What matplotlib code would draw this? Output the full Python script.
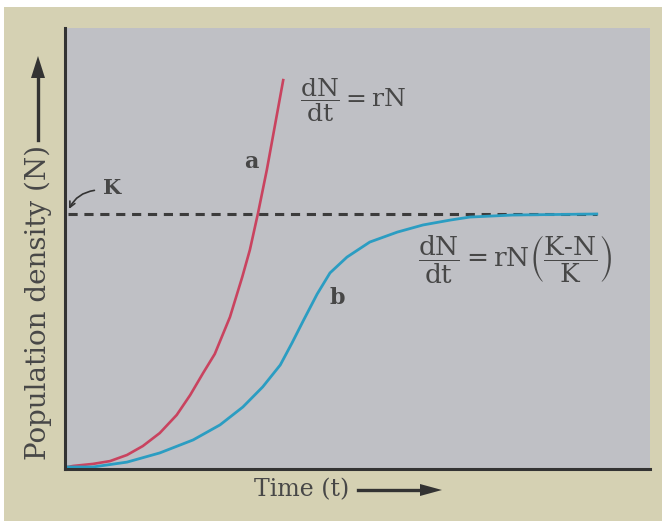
import matplotlib
matplotlib.use("Agg")
from matplotlib import pyplot as plt
from matplotlib.patches import Rectangle

# curve a: exponential growth (t, N), N in units of K
t_a = [0.05, 0.14, 0.48, 0.77, 1.06, 1.33, 1.62, 1.91, 2.14, 2.36, 2.56, 2.82,
       3.03, 3.16, 3.30, 3.45, 3.59, 3.73]
n_a = [0.008, 0.012, 0.020, 0.031, 0.055, 0.090, 0.141, 0.212, 0.290, 0.376, 0.451, 0.596,
       0.753, 0.859, 1.004, 1.173, 1.349, 1.525]

# curve b: logistic growth
t_b = [0.05, 0.48, 1.06, 1.62, 2.19, 2.65, 3.04, 3.38, 3.68, 3.88, 4.07, 4.31, 4.53,
       4.82, 5.21, 5.68, 6.12, 6.58, 6.92, 7.66, 9.09]
n_b = [0.008, 0.008, 0.027, 0.063, 0.114, 0.173, 0.243, 0.322, 0.408, 0.494, 0.580, 0.686, 0.769,
       0.831, 0.89, 0.929, 0.957, 0.976, 0.988, 0.996, 1.0]

K = 1.0
k_start, k_end = 0.05, 9.09

beige = '#d5d1b3'
panel = '#bfc0c5'
ink = '#474747'

plt.rcParams['mathtext.fontset'] = 'dejavuserif'
plt.rcParams['font.family'] = 'DejaVu Serif'

fig = plt.figure(figsize=(6.62, 5.21), dpi=100, facecolor=beige)
fig.patches.append(Rectangle((0, 1 - 7 / 521), 1, 7 / 521, transform=fig.transFigure,
                             facecolor='white', edgecolor='none', zorder=-1))
fig.patches.append(Rectangle((0, 0), 4 / 662, 1, transform=fig.transFigure,
                             facecolor='white', edgecolor='none', zorder=-1))

ax = fig.add_axes([65 / 662, 1 - 469 / 521, (650 - 65) / 662, (469 - 28) / 521])
ax.set_facecolor(panel)
ax.set_xlim(0, 10)
ax.set_ylim(0, 441 / 255)
for s in ['top', 'right']:
    ax.spines[s].set_visible(False)
for s in ['left', 'bottom']:
    ax.spines[s].set_color('#333333')
    ax.spines[s].set_linewidth(2.2)
ax.set_xticks([])
ax.set_yticks([])

ax.plot([k_start, k_end], [K, K], color='#3c3c3c', lw=2.2, ls=(0, (3, 2.2)))
ax.plot(t_a, n_a, color='#c9435f', lw=1.9, solid_joinstyle='round')
ax.plot(t_b, n_b, color='#2b9dc2', lw=2.0, solid_joinstyle='round')

ax.text(3.18, 1.204, 'a', fontsize=16, fontweight='bold', color=ink, ha='center', va='center')
ax.text(4.65, 0.67, 'b', fontsize=16, fontweight='bold', color=ink, ha='center', va='center')
ax.text(0.80, 1.10, 'K', fontsize=15, fontweight='bold', color=ink, ha='center', va='center')
ax.annotate('', xy=(0.05, 1.01), xytext=(0.55, 1.094),
            arrowprops=dict(arrowstyle='->', color='#333333', lw=1.2,
                            connectionstyle='arc3,rad=0.3'))

ax.text(4.02, 1.447, r'$\dfrac{\mathrm{dN}}{\mathrm{dt}}=\mathrm{rN}$', fontsize=18,
        color=ink, ha='left', va='center')
ax.text(6.03, 0.82,
        r'$\dfrac{\mathrm{dN}}{\mathrm{dt}}=\mathrm{rN}\left(\dfrac{\text{K-N}}{\mathrm{K}}\right)$',
        fontsize=19, color=ink, ha='left', va='center')

# axis labels with arrows
fig.text(38 / 662, 1 - 302 / 521, 'Population density (N)', rotation=90, fontsize=20,
         color=ink, ha='center', va='center')
fig.add_artist(plt.Line2D([38 / 662, 38 / 662], [1 - 140 / 521, 1 - 75 / 521],
                          transform=fig.transFigure, color='#333333', lw=2.4))
fig.patches.append(plt.Polygon([[31 / 662, 1 - 78 / 521], [45 / 662, 1 - 78 / 521],
                                [38 / 662, 1 - 56 / 521]], closed=True,
                               transform=fig.transFigure, facecolor='#333333',
                               edgecolor='none'))

fig.text(302 / 662, 1 - 490 / 521, 'Time (t)', fontsize=17, color=ink,
         ha='center', va='center')
fig.add_artist(plt.Line2D([358 / 662, 422 / 662], [1 - 490 / 521, 1 - 490 / 521],
                          transform=fig.transFigure, color='#333333', lw=2.4))
fig.patches.append(plt.Polygon([[420 / 662, 1 - 484 / 521], [420 / 662, 1 - 496 / 521],
                                [442 / 662, 1 - 490 / 521]], closed=True,
                               transform=fig.transFigure, facecolor='#333333',
                               edgecolor='none'))

fig.savefig('out.png', dpi=100, facecolor=beige)
